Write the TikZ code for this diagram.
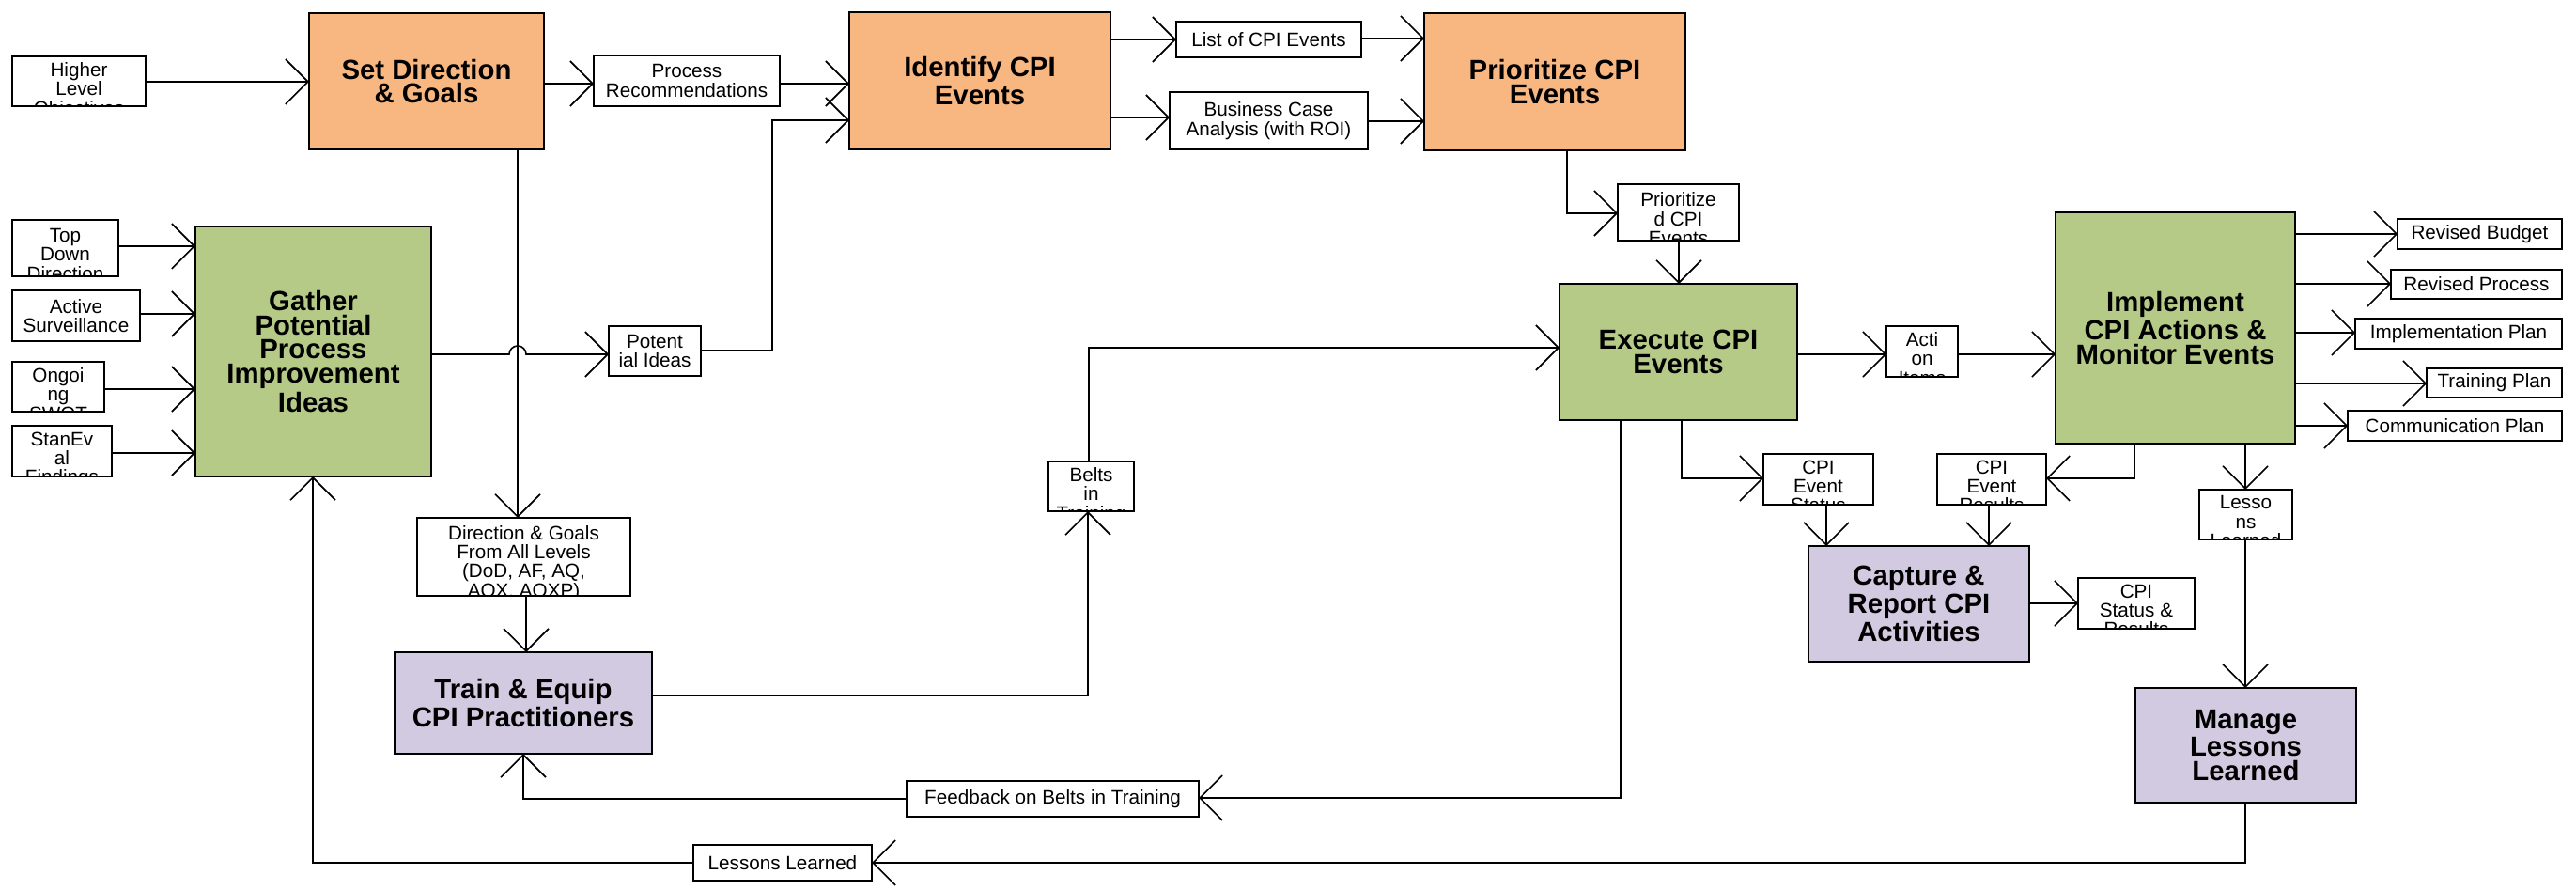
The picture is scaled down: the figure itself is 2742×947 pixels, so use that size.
\documentclass[tikz,border=0pt]{standalone}
\usepackage{fontspec}
\setmainfont{Liberation Sans}
\usetikzlibrary{arrows.meta}
\definecolor{orng}{RGB}{248,183,128}
\definecolor{grn}{RGB}{182,202,135}
\definecolor{lav}{RGB}{210,202,224}
\begin{document}
\begin{tikzpicture}[x=0.3pt,y=-0.3pt,
  sz/.style 2 args={minimum width=#1*0.3pt, minimum height=#2*0.3pt},
  proc/.style={draw, line width=0.85pt, inner sep=0pt, outer sep=0pt, align=center,
    font=\fontsize{8.8}{7.7}\selectfont\bfseries},
  orangebox/.style={proc, fill=orng},
  greenbox/.style={proc, fill=grn},
  lavbox/.style={proc, fill=lav},
  data/.style={draw, fill=white, line width=0.6pt, inner sep=0pt, outer sep=0pt, align=center,
    font=\fontsize{6.2}{6.1}\selectfont},
  clipped/.style={path picture={\node[draw=none, fill=none, anchor=north, inner sep=0pt, align=center,
    font=\fontsize{6.2}{6.1}\selectfont] at ([yshift=-2pt]path picture bounding box.north) {#1};}},
  conn/.style={line width=0.48pt, -{Straight Barb[length=7.2pt, width=14.4pt]}},
  wire/.style={line width=0.48pt}
]
\useasboundingbox (0,0) rectangle (2742,947);

% process boxes
\node[orangebox, sz={250}{145}] (SD) at (454,86.5) {Set Direction\\\& Goals};
\node[orangebox, sz={278}{146}] (ID) at (1043,86) {Identify CPI\\Events};
\node[orangebox, sz={278}{146}] (PZ) at (1655,87) {Prioritize CPI\\Events};
\node[greenbox, sz={251}{266}] (GP) at (333.5,374) {Gather\\Potential\\Process\\Improvement\\Ideas};
\node[greenbox, sz={253}{145}] (EX) at (1786.5,374.5) {Execute CPI\\Events};
\node[greenbox, sz={255}{246}] (IM) at (2315.5,349) {Implement\\CPI Actions \&\\Monitor Events};
\node[lavbox, sz={274}{108}] (TE) at (557,748) {Train \& Equip\\CPI Practitioners};
\node[lavbox, sz={235}{123}] (CR) at (2042.5,642.5) {Capture \&\\Report CPI\\Activities};
\node[lavbox, sz={235}{122}] (ML) at (2390.5,793) {Manage\\Lessons\\Learned};

% data boxes
\node[data, sz={142}{53}, clipped={Higher\\Level\\Objectives}] (HLO) at (84,86.5) {};
\node[data, sz={198}{54}] (PRc) at (731,86) {Process\\Recommendations};
\node[data, sz={113}{60}, clipped={Top\\Down\\Direction}] (TDD) at (69.5,264) {};
\node[data, sz={136}{54}] (AS) at (81,336) {Active\\Surveillance};
\node[data, sz={98}{53}, clipped={Ongoi\\ng\\SWOT}] (OS) at (62,411.5) {};
\node[data, sz={106}{54}, clipped={StanEv\\al\\Findings}] (SE) at (66,480) {};
\node[data, sz={98}{53}] (PI) at (697,373.5) {Potent\\ial Ideas};
\node[data, sz={227}{83}, clipped={Direction \& Goals\\From All Levels\\(DoD, AF, AQ,\\AQX, AQXP)}] (DG) at (557.5,592.5) {};
\node[data, sz={197}{38}] (LCE) at (1350.5,42) {List of CPI Events};
\node[data, sz={211}{61}] (BC) at (1350.5,128.5) {Business Case\\Analysis (with ROI)};
\node[data, sz={129}{60}, clipped={Prioritize\\d CPI\\Events}] (PCE) at (1786.5,226) {};
\node[data, sz={91}{53}, clipped={Belts\\in\\Training}] (BT) at (1161.5,517.5) {};
\node[data, sz={311}{38}] (FB) at (1120.5,850) {Feedback on Belts in Training};
\node[data, sz={190}{38}] (LL) at (833,918) {Lessons Learned};
\node[data, sz={76}{54}, clipped={Acti\\on\\Items}] (AI) at (2046,374) {};
\node[data, sz={117}{54}, clipped={CPI\\Event\\Status}] (CES) at (1935.5,510) {};
\node[data, sz={116}{54}, clipped={CPI\\Event\\Results}] (CER) at (2120,510) {};
\node[data, sz={124}{54}, clipped={CPI\\Status \&\\Results}] (CSR) at (2274,642) {};
\node[data, sz={99}{53}, clipped={Lesso\\ns\\Learned}] (LS) at (2390.5,547.5) {};
\node[data, sz={175}{32}] (RB) at (2639.5,249) {Revised Budget};
\node[data, sz={182}{31}] (RP) at (2636,302.5) {Revised Process};
\node[data, sz={220}{32}] (IP) at (2617,355) {Implementation Plan};
\node[data, sz={144}{31}] (TP) at (2655,407.5) {Training Plan};
\node[data, sz={228}{32}] (CP) at (2613,453) {Communication Plan};

% connectors
\draw[conn] (HLO.east |- 0,87) -- (SD.west |- 0,87);
\draw[conn] (SD.east |- 0,89) -- (PRc.west |- 0,89);
\draw[conn] (PRc.east |- 0,89) -- (ID.west |- 0,89);
\draw[conn] (PI.east |- 0,373) -- (822,373) -- (822,128) -- (ID.west |- 0,128);
\draw[conn] (SD.south -| 551,0) -- (DG.north -| 551,0);
\draw[conn] (GP.east |- 0,377) -- (542,377) arc[start angle=180, end angle=360, radius=9] -- (PI.west |- 0,377);
\draw[conn] (TDD.east |- 0,262) -- (GP.west |- 0,262);
\draw[conn] (AS.east |- 0,334) -- (GP.west |- 0,334);
\draw[conn] (OS.east |- 0,414) -- (GP.west |- 0,414);
\draw[conn] (SE.east |- 0,482) -- (GP.west |- 0,482);
\draw[conn] (DG.south -| 560,0) -- (TE.north -| 560,0);
\draw[conn] (TE.east |- 0,740) -- (1158,740) -- (BT.south -| 1158,0);
\draw[conn] (BT.north -| 1159,0) -- (1159,370) -- (EX.west |- 0,370);
\draw[conn] (ID.east |- 0,42) -- (LCE.west |- 0,42);
\draw[conn] (LCE.east |- 0,41) -- (PZ.west |- 0,41);
\draw[conn] (ID.east |- 0,125) -- (BC.west |- 0,125);
\draw[conn] (BC.east |- 0,129) -- (PZ.west |- 0,129);
\draw[conn] (PZ.south -| 1668,0) -- (1668,227) -- (PCE.west |- 0,227);
\draw[conn] (PCE.south -| 1787,0) -- (EX.north -| 1787,0);
\draw[conn] (EX.east |- 0,377) -- (AI.west |- 0,377);
\draw[conn] (AI.east |- 0,377) -- (IM.west |- 0,377);
\draw[conn] (IM.east |- 0,249) -- (RB.west |- 0,249);
\draw[conn] (IM.east |- 0,302) -- (RP.west |- 0,302);
\draw[conn] (IM.east |- 0,354) -- (IP.west |- 0,354);
\draw[conn] (IM.east |- 0,408) -- (TP.west |- 0,408);
\draw[conn] (IM.east |- 0,453) -- (CP.west |- 0,453);
\draw[conn] (EX.south -| 1790,0) -- (1790,509) -- (CES.west |- 0,509);
\draw[conn] (CES.south -| 1944,0) -- (CR.north -| 1944,0);
\draw[conn] (IM.south -| 2272,0) -- (2272,509) -- (CER.east |- 0,509);
\draw[conn] (CER.south -| 2117,0) -- (CR.north -| 2117,0);
\draw[conn] (CR.east |- 0,642) -- (CSR.west |- 0,642);
\draw[conn] (IM.south -| 2390,0) -- (LS.north -| 2390,0);
\draw[conn] (LS.south -| 2390,0) -- (ML.north -| 2390,0);
\draw[conn] (EX.south -| 1725,0) -- (1725,849) -- (FB.east |- 0,849);
\draw[conn] (FB.west |- 0,850) -- (557,850) -- (TE.south -| 557,0);
\draw[conn] (ML.south -| 2390,0) -- (2390,918) -- (LL.east |- 0,918);
\draw[conn] (LL.west |- 0,918) -- (333,918) -- (GP.south -| 333,0);
\end{tikzpicture}
\end{document}
